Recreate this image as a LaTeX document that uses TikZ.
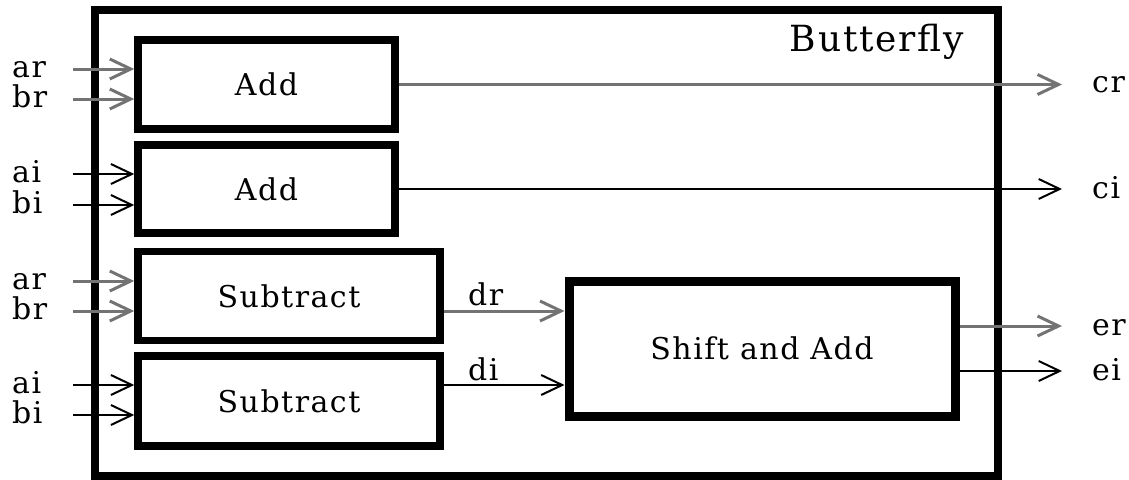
\documentclass[tikz,border=0pt]{standalone}
\usepackage{fontspec}
\setmainfont{DejaVu Serif}[LetterSpace=5]
\usetikzlibrary{arrows.meta}
\begin{document}
\begin{tikzpicture}[x=1pt,y=-1pt,
  every node/.style={inner sep=0pt},
  lbl/.style={font=\fontsize{30}{36}\selectfont},
  ttl/.style={font=\fontsize{36}{42}\selectfont},
  blk/.style={draw, line width=7.5pt, lbl},
  outerblk/.style={draw, line width=8pt},
  shiftblk/.style={draw, line width=9pt, lbl},
  rline/.style={draw=black!55, line width=3pt, -{Straight Barb[length=21pt,width=20pt]}},
  iline/.style={draw=black, line width=2pt, -{Straight Barb[length=21pt,width=20pt]}}
]
\useasboundingbox (0,0) rectangle (1129,479);

% enclosing unit
\node[outerblk, minimum width=903pt, minimum height=466pt] (bfly) at (546.5,243) {};
\node[ttl] (title) at (877,42) {Butterfly};

% arithmetic blocks
\node[blk, minimum width=257pt, minimum height=89pt] (add1) at (266.5,84.5) {Add};
\node[blk, minimum width=257pt, minimum height=88pt] (add2) at (266.5,189) {Add};
\node[blk, minimum width=302pt, minimum height=89pt] (sub1) at (289,296) {Subtract};
\node[blk, minimum width=302pt, minimum height=90pt] (sub2) at (289,401) {Subtract};
\node[shiftblk, minimum width=386pt, minimum height=135pt] (shift) at (762,348.5) {Shift and Add};

% inputs
\foreach \n/\yy/\t/\s/\b in {1/69/ar/rline/add1, 2/99/br/rline/add1,
    3/174/ai/iline/add2, 4/205/bi/iline/add2,
    5/281/ar/rline/sub1, 6/311/br/rline/sub1,
    7/385/ai/iline/sub2, 8/415/bi/iline/sub2}{
  \node[lbl, anchor=base west] (lab\n) at (12,\yy+8) {\t};
  \coordinate (src\n) at (73,\yy);
  \draw[\s] (src\n) -- (src\n -| \b.west);
}

% outputs of the adders
\coordinate (ocr) at (1062,84.5);
\coordinate (oci) at (1062,189);
\draw[rline] (add1.east) -- (ocr);
\draw[iline] (add2.east) -- (oci);
\node[lbl, anchor=base west] (cr) at (1092,92) {cr};
\node[lbl, anchor=base west] (ci) at (1092,198) {ci};

% differences into shift-and-add
\draw[rline] ([yshift=-15pt]sub1.east) coordinate (d1) -- (d1 -| shift.west);
\draw[iline] ([yshift=16pt]sub2.east) coordinate (d2) -- (d2 -| shift.west);
\node[lbl, anchor=base west] (dr) at (468,305) {dr};
\node[lbl, anchor=base west] (di) at (468,380) {di};

% shift-and-add outputs
\draw[rline] ([yshift=22.5pt]shift.east) coordinate (e1) -- (e1 -| ocr);
\draw[iline] ([yshift=-22.5pt]shift.east) coordinate (e2) -- (e2 -| ocr);
\node[lbl, anchor=base west] (er) at (1092,335) {er};
\node[lbl, anchor=base west] (ei) at (1092,380) {ei};
\end{tikzpicture}
\end{document}
